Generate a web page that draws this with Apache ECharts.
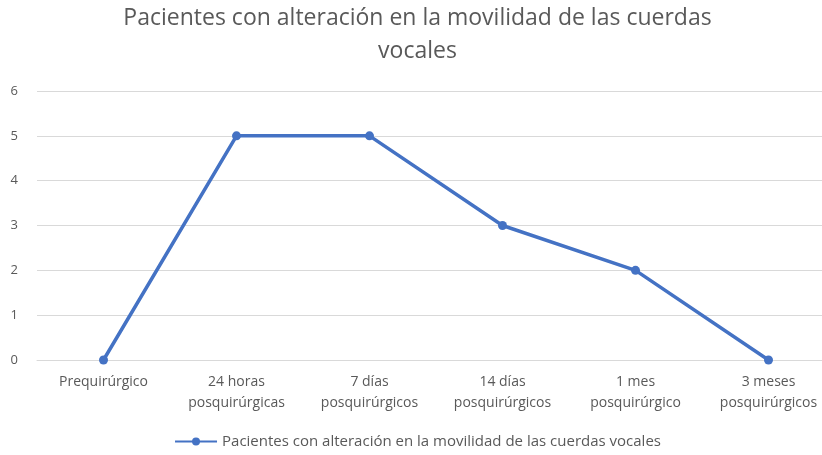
<!DOCTYPE html>
<html>
<head>
<meta charset="utf-8">
<script src="https://cdn.jsdelivr.net/npm/echarts@6/dist/echarts.min.js"></script>
<style>
html,body{margin:0;padding:0;background:#fff;overflow:hidden;}
#main{width:835px;height:455px;}
</style>
</head>
<body>
<div id="main"></div>
<script>
var categories = ['Prequirúrgico', '24 horas\nposquirúrgicas', '7 días\nposquirúrgicos', '14 días\nposquirúrgicos', '1 mes\nposquirúrgico', '3 meses\nposquirúrgicos'];
var values = [0, 5, 5, 3, 2, 0];
var seriesName = 'Pacientes con alteración en la movilidad de las cuerdas vocales';

var myChart = echarts.init(document.getElementById('main'));
var option = {
	backgroundColor: '#fff',
	textStyle: {fontFamily: '"Open Sans", "Noto Sans", sans-serif'},
	title: {
		text: 'Pacientes con alteración en la movilidad de las cuerdas\nvocales',
		left: 'center',
		top: 0,
		padding: [2, 5],
		textStyle: {color: '#595959', fontSize: 23, fontWeight: 'normal', lineHeight: 33, fontFamily: '"Open Sans", sans-serif'}
	},
	legend: {
		bottom: 1,
		left: 'center',
		itemWidth: 42,
		itemHeight: 10,
		itemGap: 4,
		textStyle: {color: '#595959', fontSize: 15},
		data: [seriesName]
	},
	grid: {left: 37, right: 0, top: 91, bottom: 95},
	xAxis: {
		type: 'category',
		data: categories,
		boundaryGap: true,
		axisLine: {lineStyle: {color: '#d9d9d9'}},
		axisTick: {show: false},
		axisLabel: {color: '#595959', fontSize: 14, margin: 12, lineHeight: 21, interval: 0}
	},
	yAxis: {
		type: 'value',
		min: 0,
		max: 6,
		interval: 1,
		axisLine: {show: false},
		axisTick: {show: false},
		axisLabel: {color: '#595959', fontSize: 13, margin: 19},
		splitLine: {lineStyle: {color: '#d9d9d9'}}
	},
	series: [{
		name: seriesName,
		type: 'line',
		data: values,
		symbol: 'circle',
		symbolSize: 9,
		itemStyle: {color: '#4472C4'},
		lineStyle: {color: '#4472C4', width: 3.5}
	}]
};
myChart.setOption(option);
</script>
</body>
</html>
